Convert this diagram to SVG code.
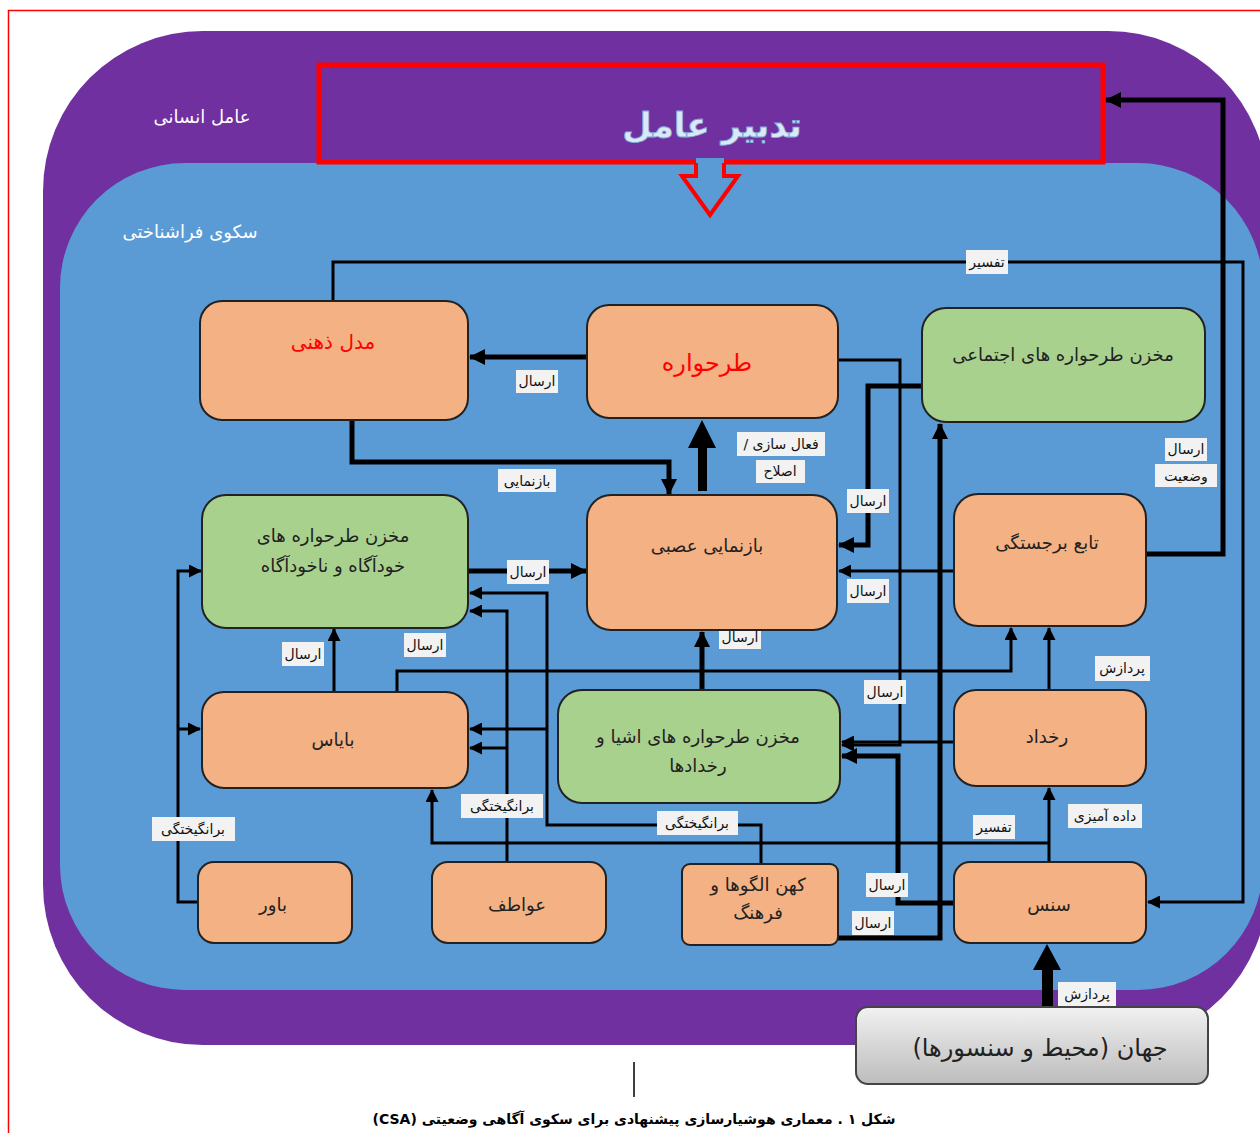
<svg xmlns="http://www.w3.org/2000/svg" width="1260" height="1133" viewBox="0 0 1260 1133">
<defs>
<style>
.node{stroke:#222;stroke-width:2}
.or{fill:#f4b183}
.gr{fill:#a9d18e}
.nt{font-family:"DejaVu Sans",sans-serif;font-size:18px;fill:#222;text-anchor:middle;direction:rtl}
.lb rect{fill:#f2f2f2}
.lb text{font-family:"DejaVu Sans",sans-serif;font-size:14px;fill:#111;text-anchor:middle;direction:rtl}
.c3{fill:none;stroke:#000;stroke-width:3}
.c5{fill:none;stroke:#000;stroke-width:5}
</style>
<marker id="a3" markerUnits="userSpaceOnUse" markerWidth="13" markerHeight="13" viewBox="0 0 13 13" refX="12" refY="6.5" orient="auto"><path d="M0,0 L13,6.5 L0,13 z" fill="#000"/></marker>
<marker id="a5" markerUnits="userSpaceOnUse" markerWidth="16" markerHeight="16" viewBox="0 0 16 16" refX="15" refY="8" orient="auto"><path d="M0,0 L16,8 L0,16 z" fill="#000"/></marker>
<linearGradient id="gw" x1="0" y1="0" x2="0" y2="1"><stop offset="0" stop-color="#f2f2f2"/><stop offset="0.5" stop-color="#d6d6d6"/><stop offset="1" stop-color="#bdbdbd"/></linearGradient>
</defs>
<rect x="0" y="0" width="1260" height="1133" fill="#fff"/>
<rect x="8.5" y="10.5" width="1270" height="1140" fill="none" stroke="#ff0000" stroke-width="1.5"/>

<g id="outer-layer">
<rect x="43" y="31" width="1225" height="1014" rx="160" ry="160" fill="#7030a0"/>
<text x="202" y="123" font-family="DejaVu Sans,sans-serif" font-size="18" fill="#fff" text-anchor="middle" direction="rtl">عامل انسانی</text>
</g>
<g id="inner-layer">
<rect x="60" y="163" width="1203" height="827" rx="125" ry="125" fill="#5b9bd5"/>
<text x="190" y="238" font-family="DejaVu Sans,sans-serif" font-size="18" fill="#fff" text-anchor="middle" direction="rtl">سکوی فراشناختی</text>
</g>

<g id="agent-management">
<rect x="319" y="65" width="784" height="97" fill="#7030a0" stroke="#ff0000" stroke-width="5"/>
<text x="712" y="137" font-family="DejaVu Sans,sans-serif" font-size="34" font-weight="bold" fill="#dbe9f7" stroke="#7fa8d6" stroke-width="0.8" text-anchor="middle" direction="rtl">تدبیر عامل</text>
<polygon points="696,158 696,176 682,176 710,215 738,176 724,176 724,158" fill="#5b9bd5"/>
<polyline points="696,163 696,176 682,176 710,215 738,176 724,176 724,163" fill="none" stroke="#ff0000" stroke-width="4"/>
</g>

<g id="connectors">
<path class="c3" d="M333,301 V262 H1243 V902 H1148" marker-end="url(#a3)"/>
<path class="c5" d="M1146,554 H1223 V100 H1106" marker-end="url(#a5)"/>
<path class="c5" d="M587,357 H470" marker-end="url(#a5)"/>
<path class="c5" d="M352,420 V462 H669 V494" marker-end="url(#a5)"/>
<rect x="698" y="446" width="9" height="45" fill="#000"/>
<polygon points="688,448 716,448 702,420" fill="#000"/>
<path class="c3" d="M838,360 H900 V745 H842" marker-end="url(#a3)"/>
<path class="c5" d="M922,386 H868 V545 H839" marker-end="url(#a5)"/>
<path class="c3" d="M953,571 H839" marker-end="url(#a3)"/>
<path class="c5" d="M468,571 H586" marker-end="url(#a5)"/>
<path class="c3" d="M761,864 V825 H547 V593 H470" marker-end="url(#a3)"/>
<path class="c3" d="M547,729 H470" marker-end="url(#a3)"/>
<path class="c3" d="M507,862 V611 H470" marker-end="url(#a3)"/>
<path class="c3" d="M507,748 H470" marker-end="url(#a3)"/>
<path class="c3" d="M198,902 H178 V571 H201" marker-end="url(#a3)"/>
<path class="c3" d="M178,729 H200" marker-end="url(#a3)"/>
<path class="c3" d="M334,692 V629" marker-end="url(#a3)"/>
<path class="c3" d="M397,695 V671 H1011 V628" marker-end="url(#a3)"/>
<path class="c3" d="M1049,690 V628" marker-end="url(#a3)"/>
<path class="c3" d="M1049,862 V788" marker-end="url(#a3)"/>
<path class="c3" d="M1049,843 H432 V790" marker-end="url(#a3)"/>
<path class="c5" d="M702,690 V632" marker-end="url(#a5)"/>
<path class="c5" d="M838,938 H940 V424" marker-end="url(#a5)"/>
<path class="c5" d="M953,903 H898 V756 H842" marker-end="url(#a5)"/>
<path class="c3" d="M953,742 H842" marker-end="url(#a3)"/>
<rect x="1042" y="968" width="11" height="40" fill="#000"/>
<polygon points="1033,970 1061,970 1047,944" fill="#000"/>

<g class="lb">
<rect x="966" y="250" width="42" height="24"/><text x="987" y="267">تفسیر</text>
<rect x="516" y="370" width="42" height="23"/><text x="537" y="386">ارسال</text>
<rect x="498" y="469" width="58" height="23"/><text x="527" y="486">بازنمایی</text>
<rect x="737" y="432" width="88" height="24"/><text x="781" y="449">فعال سازی /</text>
<rect x="756" y="460" width="49" height="23"/><text x="780" y="476">اصلاح</text>
<rect x="1165" y="438" width="42" height="23"/><text x="1186" y="454">ارسال</text>
<rect x="1155" y="464" width="62" height="23"/><text x="1186" y="481">وضعیت</text>
<rect x="847" y="489" width="42" height="24"/><text x="868" y="506">ارسال</text>
<rect x="507" y="560" width="42" height="24"/><text x="528" y="577">ارسال</text>
<rect x="847" y="579" width="42" height="24"/><text x="868" y="596">ارسال</text>
<rect x="719" y="625" width="42" height="24"/><text x="740" y="642">ارسال</text>
<rect x="282" y="642" width="42" height="24"/><text x="303" y="659">ارسال</text>
<rect x="404" y="633" width="42" height="24"/><text x="425" y="650">ارسال</text>
<rect x="864" y="680" width="42" height="24"/><text x="885" y="697">ارسال</text>
<rect x="1095" y="656" width="55" height="25"/><text x="1122" y="673">پردازش</text>
<rect x="152" y="817" width="83" height="24"/><text x="193" y="834">برانگیختگی</text>
<rect x="461" y="794" width="82" height="24"/><text x="502" y="811">برانگیختگی</text>
<rect x="657" y="811" width="81" height="24"/><text x="697" y="828">برانگیختگی</text>
<rect x="973" y="815" width="42" height="24"/><text x="994" y="832">تفسیر</text>
<rect x="1068" y="804" width="74" height="24"/><text x="1105" y="821">داده آمیزی</text>
<rect x="866" y="873" width="42" height="24"/><text x="887" y="890">ارسال</text>
<rect x="852" y="911" width="42" height="24"/><text x="873" y="928">ارسال</text>
<rect x="1058" y="982" width="58" height="24"/><text x="1087" y="999">پردازش</text>
</g>
</g>

<g id="mental-model">
<rect class="node or" x="200" y="301" width="268" height="119" rx="22"/>
<text class="nt" x="333" y="349" style="fill:#ff0000;font-size:20px">مدل ذهنی</text>
</g>
<g id="schema">
<rect class="node or" x="587" y="305" width="251" height="113" rx="22"/>
<text class="nt" x="707" y="371" style="fill:#ff0000;font-size:24px">طرحواره</text>
</g>
<g id="social-schema-store">
<rect class="node gr" x="922" y="308" width="283" height="114" rx="24"/>
<text class="nt" x="1063" y="361">مخزن طرحواره های اجتماعی</text>
</g>
<g id="conscious-store">
<rect class="node gr" x="202" y="495" width="266" height="133" rx="24"/>
<text class="nt" x="333" y="542">مخزن طرحواره های</text>
<text class="nt" x="333" y="572">خودآگاه و ناخودآگاه</text>
</g>
<g id="neural-representation">
<rect class="node or" x="587" y="495" width="250" height="135" rx="24"/>
<text class="nt" x="707" y="552">بازنمایی عصبی</text>
</g>
<g id="salience">
<rect class="node or" x="954" y="494" width="192" height="132" rx="24"/>
<text class="nt" x="1047" y="549">تابع برجستگی</text>
</g>
<g id="bias">
<rect class="node or" x="202" y="692" width="266" height="96" rx="22"/>
<text class="nt" x="333" y="746">بایاس</text>
</g>
<g id="objects-store">
<rect class="node gr" x="558" y="690" width="282" height="113" rx="24"/>
<text class="nt" x="698" y="743">مخزن طرحواره های اشیا و</text>
<text class="nt" x="698" y="772">رخدادها</text>
</g>
<g id="event">
<rect class="node or" x="954" y="690" width="192" height="96" rx="22"/>
<text class="nt" x="1047" y="743">رخداد</text>
</g>
<g id="belief">
<rect class="node or" x="198" y="862" width="154" height="81" rx="16"/>
<text class="nt" x="273" y="911">باور</text>
</g>
<g id="emotions">
<rect class="node or" x="432" y="862" width="174" height="81" rx="16"/>
<text class="nt" x="517" y="911">عواطف</text>
</g>
<g id="archetypes">
<rect class="node or" x="682" y="864" width="156" height="81" rx="8"/>
<text class="nt" x="758" y="891">کهن الگوها و</text>
<text class="nt" x="758" y="919">فرهنگ</text>
</g>
<g id="sense">
<rect class="node or" x="954" y="862" width="192" height="81" rx="16"/>
<text class="nt" x="1049" y="911">سنس</text>
</g>
<g id="world">
<rect x="856" y="1007" width="352" height="77" rx="12" fill="url(#gw)" stroke="#444" stroke-width="2"/>
<text x="1040" y="1056" font-family="DejaVu Sans,sans-serif" font-size="24" fill="#222" text-anchor="middle" direction="rtl">جهان (محیط و سنسورها)</text>
</g>

<g id="caption">
<line x1="634" y1="1062" x2="634" y2="1097" stroke="#000" stroke-width="1.5"/>
<text x="634" y="1124" font-family="DejaVu Sans,sans-serif" font-size="14" font-weight="bold" fill="#000" text-anchor="middle" direction="rtl">شکل ۱ . معماری هوشیارسازی پیشنهادی برای سکوی آگاهی وضعیتی (CSA)</text>
</g>
</svg>
